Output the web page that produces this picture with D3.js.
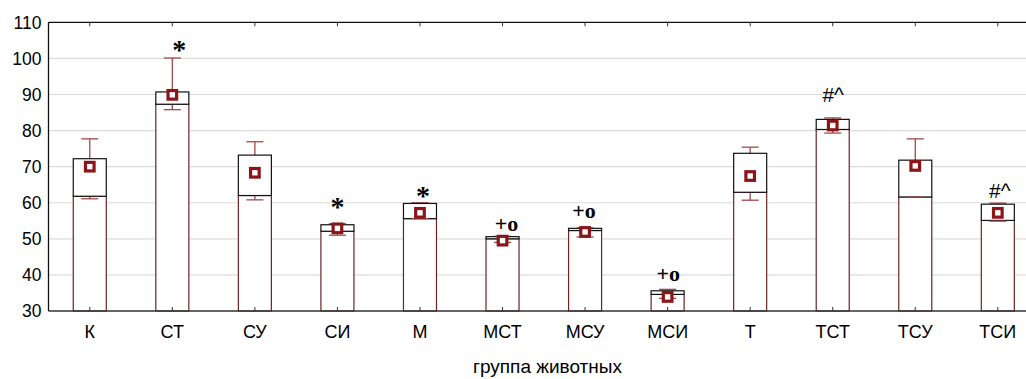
<!DOCTYPE html>
<html>
<head>
<meta charset="utf-8">
<script src="https://cdn.jsdelivr.net/npm/d3@7"></script>
<style>
  html, body { margin: 0; padding: 0; background: #fff; }
  svg { display: block; }
</style>
</head>
<body>
<svg id="chart" width="1026" height="379"></svg>
<script>
const categories = ["К","СТ","СУ","СИ","М","МСТ","МСУ","МСИ","Т","ТСТ","ТСУ","ТСИ"];
const boxTop      = [72.2, 90.7, 73.2, 53.9, 59.8, 50.6, 52.9, 35.6, 73.7, 83.1, 71.8, 59.6];
const boxLow      = [61.8, 87.3, 62.0, 52.1, 55.6, 50.0, 52.3, 34.6, 62.9, 80.3, 61.6, 55.1];
const whiskerHigh = [77.7, 100.1, 76.9, 54.2, 60.0, 50.7, 53.0, 36.0, 75.4, 83.5, 77.7, 59.9];
const whiskerLow  = [61.1, 85.8, 60.8, 51.0, 55.6, 49.0, 50.5, 33.5, 60.7, 79.3, 61.6, 54.9];
const means       = [70.0, 89.9, 68.3, 52.9, 57.2, 49.5, 51.9, 33.9, 67.4, 81.4, 70.2, 57.2];
const marks       = ["", "*", "", "*", "*", "+o", "+o", "+o", "", "#^", "", "#^"];
const markLevel   = [null, 99.8, null, 56.3, 59.4, 52.3, 55.7, 38.4, null, 87.8, null, 61.4];
const markShift   = [0, 7, 0, 0, 3, 4, -1, 0.6, 0, 0.5, 0, 2];
const yTicks      = [30, 40, 50, 60, 70, 80, 90, 100, 110];
const xTitle      = "группа животных";

const svg = d3.select("#chart");
const plotL = 48.5, plotT = 22.3, plotB = 311, plotREnd = 1039.1;

const x = d3.scaleBand().domain(categories).range([plotL, plotREnd]).paddingInner(0.6).paddingOuter(0.3);
const y = d3.scaleLinear().domain([30, 110]).range([plotB, plotT]);
const bw = x.bandwidth();
const cx = c => x(c) + bw / 2;

// gridlines
svg.append("g").selectAll("line").data(yTicks.filter(t => t > 30 && t < 110)).join("line")
  .attr("x1", plotL).attr("x2", 1026)
  .attr("y1", d => y(d)).attr("y2", d => y(d))
  .attr("stroke", "#dcdcdc").attr("stroke-width", 1.2);

const data = categories.map((c, i) => ({
  c, top: boxTop[i], low: boxLow[i], wh: whiskerHigh[i], wl: whiskerLow[i], mean: means[i],
  mark: marks[i], ml: markLevel[i], dx: markShift[i]
}));

const capW = 17;
const whiskerColor = "#a3484b";
const g = svg.append("g");

// lower bars (axis to box low)
g.selectAll("rect.bar").data(data).join("rect").attr("class", "bar")
  .attr("x", d => x(d.c)).attr("width", bw)
  .attr("y", d => y(d.low)).attr("height", d => y(30) - y(d.low))
  .attr("fill", "#fff").attr("stroke", "#6a2426").attr("stroke-width", 1.2);

// whiskers
g.selectAll("line.wh").data(data).join("line").attr("class", "wh")
  .attr("x1", d => cx(d.c)).attr("x2", d => cx(d.c))
  .attr("y1", d => y(d.top)).attr("y2", d => y(d.wh))
  .attr("stroke", whiskerColor).attr("stroke-width", 1.3);
g.selectAll("line.whc").data(data).join("line").attr("class", "whc")
  .attr("x1", d => cx(d.c) - capW / 2).attr("x2", d => cx(d.c) + capW / 2)
  .attr("y1", d => y(d.wh)).attr("y2", d => y(d.wh))
  .attr("stroke", whiskerColor).attr("stroke-width", 1.3);
g.selectAll("line.wl").data(data).join("line").attr("class", "wl")
  .attr("x1", d => cx(d.c)).attr("x2", d => cx(d.c))
  .attr("y1", d => y(d.low)).attr("y2", d => y(d.wl))
  .attr("stroke", whiskerColor).attr("stroke-width", 1.3);

// boxes
g.selectAll("rect.box").data(data).join("rect").attr("class", "box")
  .attr("x", d => x(d.c)).attr("width", bw)
  .attr("y", d => y(d.top)).attr("height", d => y(d.low) - y(d.top))
  .attr("fill", "#fff").attr("stroke", "#111").attr("stroke-width", 1.2);

// lower whisker caps
g.selectAll("line.wlc").data(data).join("line").attr("class", "wlc")
  .attr("x1", d => cx(d.c) - capW / 2).attr("x2", d => cx(d.c) + capW / 2)
  .attr("y1", d => y(d.wl)).attr("y2", d => y(d.wl))
  .attr("stroke", whiskerColor).attr("stroke-width", 1.3);

// axes frame
svg.append("line").attr("x1", plotL).attr("x2", 1026).attr("y1", plotT).attr("y2", plotT).attr("stroke", "#111").attr("stroke-width", 1.3);
svg.append("line").attr("x1", plotL).attr("x2", 1026).attr("y1", plotB).attr("y2", plotB).attr("stroke", "#333").attr("stroke-width", 1.3);
svg.append("line").attr("x1", plotL).attr("x2", plotL).attr("y1", plotT).attr("y2", plotB).attr("stroke", "#111").attr("stroke-width", 1.3);

// x ticks (inward, top and bottom)
svg.append("g").selectAll("line").data(categories).join("line")
  .attr("x1", d => cx(d)).attr("x2", d => cx(d))
  .attr("y1", plotB).attr("y2", plotB - 4).attr("stroke", "#333").attr("stroke-width", 1);
svg.append("g").selectAll("line").data(categories).join("line")
  .attr("x1", d => cx(d)).attr("x2", d => cx(d))
  .attr("y1", plotT).attr("y2", plotT + 4).attr("stroke", "#333").attr("stroke-width", 1);

// y labels
svg.append("g").selectAll("text").data(yTicks).join("text")
  .attr("x", 41.5).attr("y", d => y(d)).attr("dy", "0.36em")
  .attr("text-anchor", "end")
  .attr("font-family", "Liberation Sans, Arial, sans-serif").attr("font-size", 17.5)
  .attr("fill", "#000").text(d => d);

// x labels
svg.append("g").selectAll("text").data(categories).join("text")
  .attr("x", d => cx(d)).attr("y", 337.5)
  .attr("text-anchor", "middle")
  .attr("font-family", "Liberation Sans, Arial, sans-serif").attr("font-size", 18)
  .attr("fill", "#000").text(d => d);

// title
svg.append("text").attr("x", 547.5).attr("y", 372.5).attr("text-anchor", "middle")
  .attr("font-family", "Liberation Sans, Arial, sans-serif").attr("font-size", 19)
  .attr("fill", "#000").text(xTitle);

// mean markers
g.selectAll("rect.mean").data(data).join("rect").attr("class", "mean")
  .attr("x", d => cx(d.c) - 4.3).attr("y", d => y(d.mean) - 4.3)
  .attr("width", 8.6).attr("height", 8.6)
  .attr("fill", "#fff").attr("stroke", "#8b1519").attr("stroke-width", 3.2);

// significance marks
svg.append("g").selectAll("text").data(data.filter(d => d.mark)).join("text")
  .attr("x", d => cx(d.c) + d.dx)
  .attr("y", d => y(d.ml))
  .attr("text-anchor", "middle")
  .attr("font-family", d => d.mark === "#^" ? "Liberation Sans, Arial, sans-serif" : "Liberation Serif, Times New Roman, serif")
  .attr("font-weight", d => d.mark === "#^" ? "normal" : "bold")
  .attr("font-size", d => d.mark === "*" ? 28 : (d.mark === "#^" ? 21 : 22))
  .attr("fill", "#000").text(d => d.mark);
</script>
</body>
</html>
